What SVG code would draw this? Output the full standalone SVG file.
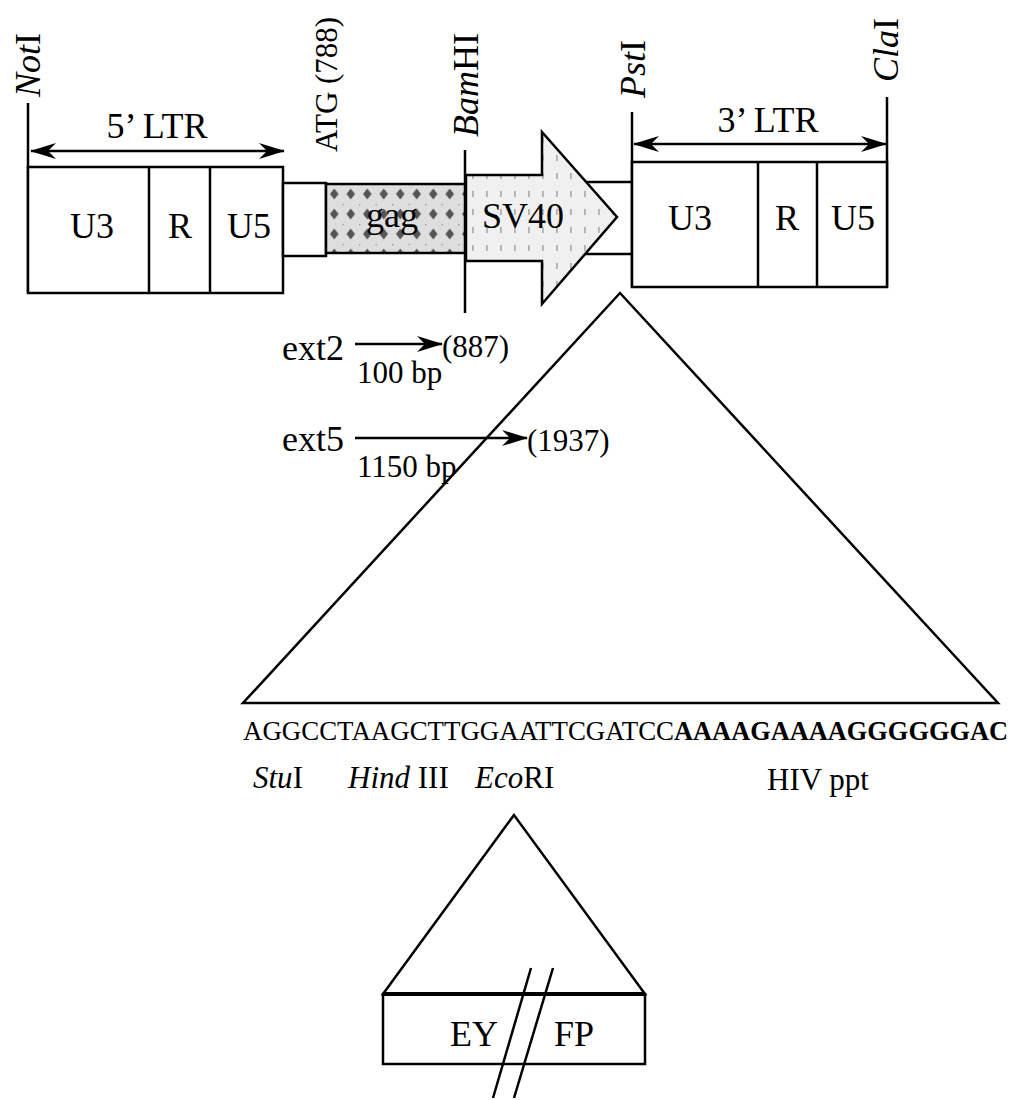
<svg xmlns="http://www.w3.org/2000/svg" width="1014" height="1100" viewBox="0 0 1014 1100">
<style>
  text { font-family: "Liberation Serif", "Times New Roman", serif; fill: #000; }
  .lbl { font-size: 36px; }
  .seg { font-size: 36px; text-anchor: middle; }
  .sm { font-size: 31px; }
  .it { font-style: italic; }
  .ln { stroke: #000; stroke-width: 2.5; fill: none; }
  .box { stroke: #000; stroke-width: 2.5; fill: #fff; }
</style>
<defs>
  <marker id="ah" markerUnits="userSpaceOnUse" viewBox="0 0 26 16" refX="25" refY="8" markerWidth="26" markerHeight="16" orient="auto-start-reverse">
    <path d="M0,0 L26,8 L0,16 L8,8 z" fill="#000"/>
  </marker>
  <pattern id="gagp" patternUnits="userSpaceOnUse" x="326" y="184" width="16.5" height="20">
    <rect width="16.5" height="20" fill="#dedede"/>
    <path d="M8.25,4.5 L12.5,10 L8.25,15.5 L4,10 z" fill="#555"/>
    <circle cx="0.5" cy="0.5" r="0.9" fill="#999"/>
  </pattern>
  <pattern id="svp" patternUnits="userSpaceOnUse" x="466" y="132" width="14" height="18">
    <rect width="14" height="18" fill="#f0f0f0"/>
    <rect x="6" y="5" width="1.8" height="6" fill="#b0b0b0"/>
  </pattern>
</defs>

<g id="connectors">
  <line class="ln" x1="28" y1="103" x2="28" y2="293"/>
  <line class="ln" x1="465" y1="150" x2="465" y2="313"/>
  <line class="ln" x1="632" y1="112" x2="632" y2="287"/>
  <line class="ln" x1="887" y1="97" x2="887" y2="287"/>
  <line class="ln" x1="31" y1="151" x2="284" y2="151" marker-start="url(#ah)" marker-end="url(#ah)"/>
  <line class="ln" x1="634" y1="144" x2="886" y2="144" marker-start="url(#ah)" marker-end="url(#ah)"/>
  <line class="ln" x1="355" y1="344" x2="442" y2="344" marker-end="url(#ah)"/>
  <line class="ln" x1="355" y1="438" x2="527" y2="438" marker-end="url(#ah)"/>
  <line class="ln" x1="586" y1="182" x2="632" y2="182"/>
  <line class="ln" x1="585" y1="254" x2="632" y2="254"/>
</g>

<g id="labels-sites">
  <text class="lbl" transform="translate(40,97) rotate(-90)"><tspan class="it">Not</tspan>I</text>
  <text class="sm" transform="translate(337,152) rotate(-90)">ATG (788)</text>
  <text class="lbl" transform="translate(478,137) rotate(-90)"><tspan class="it">Bam</tspan>HI</text>
  <text class="lbl" transform="translate(645,98) rotate(-90)"><tspan class="it">Pst</tspan>I</text>
  <text class="lbl" transform="translate(898,82) rotate(-90)"><tspan class="it">Cla</tspan>I</text>
  <text class="lbl" x="157" y="138" text-anchor="middle" font-size="37">5’ LTR</text>
  <text class="lbl" x="768" y="132" text-anchor="middle" font-size="37">3’ LTR</text>
</g>

<g id="ltr5">
  <rect class="box" x="28" y="167" width="255" height="126"/>
  <line class="ln" x1="149" y1="167" x2="149" y2="293" stroke-width="3.5"/>
  <line class="ln" x1="210" y1="167" x2="210" y2="293"/>
  <text class="seg" x="92" y="238">U3</text>
  <text class="seg" x="180" y="238">R</text>
  <text class="seg" x="249" y="238">U5</text>
</g>

<g id="spacer">
  <rect class="box" x="283" y="183" width="43" height="73"/>
</g>

<g id="gag">
  <rect x="326" y="184" width="139" height="69" fill="url(#gagp)" stroke="#000" stroke-width="2.5"/>
  <text class="lbl" x="392" y="227" text-anchor="middle" font-size="38">gag</text>
</g>

<g id="sv40">
  <polygon points="466,175 542,175 542,132 617,217 542,304 542,261 466,261" fill="url(#svp)" stroke="#000" stroke-width="2.5" stroke-linejoin="miter"/>
  <text class="lbl" x="482" y="228">SV40</text>
</g>

<g id="ltr3">
  <rect class="box" x="632" y="162" width="255" height="125"/>
  <line class="ln" x1="758" y1="162" x2="758" y2="287"/>
  <line class="ln" x1="817" y1="162" x2="817" y2="287"/>
  <text class="seg" x="690" y="230">U3</text>
  <text class="seg" x="787" y="230">R</text>
  <text class="seg" x="853" y="230">U5</text>
</g>

<g id="primers">
  <text class="lbl" x="282" y="360">ext2</text>
  <text class="sm" x="442" y="357">(887)</text>
  <text class="sm" x="357" y="383">100 bp</text>
  <text class="lbl" x="282" y="451">ext5</text>
  <text class="sm" x="527" y="451">(1937)</text>
  <text class="sm" x="357" y="477">1150 bp</text>
</g>

<g id="insert-triangle">
  <polygon class="ln" points="620,293 243,703 998,703" stroke-linejoin="miter"/>
</g>

<g id="sequence">
  <text x="243" y="740" font-size="27" textLength="431" lengthAdjust="spacingAndGlyphs">AGGCCTAAGCTTGGAATTCGATCC</text>
  <text x="674" y="740" font-size="27" font-weight="bold" textLength="334" lengthAdjust="spacingAndGlyphs">AAAAGAAAAGGGGGGAC</text>
  <text class="sm" x="253" y="788"><tspan class="it">Stu</tspan>I</text>
  <text class="sm" x="348" y="788"><tspan class="it">Hind</tspan> III</text>
  <text class="sm" x="475" y="788"><tspan class="it">Eco</tspan>RI</text>
  <text class="sm" x="767" y="790">HIV ppt</text>
</g>

<g id="eyfp">
  <polygon class="ln" points="514,815 383,994 645,994" stroke-linejoin="miter"/>
  <rect class="box" x="383" y="994" width="262" height="70" fill="none"/>
  <line x1="383" y1="994" x2="645" y2="994" stroke="#000" stroke-width="4"/>
  <text x="474" y="1046" font-size="36" text-anchor="middle">EY</text>
  <text x="574" y="1046" font-size="36" text-anchor="middle">FP</text>
</g>
<g id="slashes">
  <line class="ln" x1="531" y1="968" x2="493" y2="1098"/>
  <line class="ln" x1="553" y1="968" x2="514" y2="1098"/>
</g>
</svg>
